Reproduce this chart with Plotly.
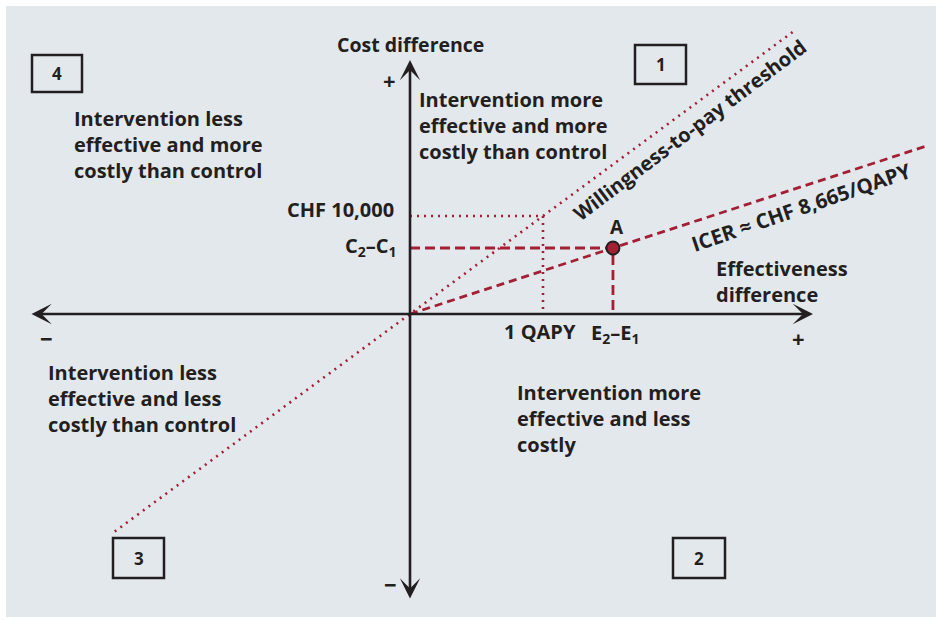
import plotly.graph_objects as go

# ---------------- data ----------------
WTP_THRESHOLD = 10000          # CHF per QAPY (willingness-to-pay)
ICER_LABEL = "ICER ≈ CHF 8,665/QAPY"
point_A_effect = [1.526]       # E2 - E1 (QAPY)
point_A_cost = [6735]          # C2 - C1 (CHF)
wtp_effect_span = [-2.22, 2.88]
icer_effect_span = [0.0, 3.87]
one_qapy = 1.0

quadrant_ids = ["1", "2", "3", "4"]
quadrant_texts = {
    "1": "Intervention more<br>effective and more<br>costly than control",
    "2": "Intervention more<br>effective and less<br>costly",
    "3": "Intervention less<br>effective and less<br>costly than control",
    "4": "Intervention less<br>effective and more<br>costly than control",
}

# ---------------- layout helpers ----------------
W, H = 938, 621
X0PX, Y0PX = 410, 314        # origin in pixels
PX_PER_QAPY = 133
PX_PER_10K = 98

def px_x(p):
    return p / W

def px_y(p):
    return 1 - p / H

x_range = [-X0PX / PX_PER_QAPY, (W - X0PX) / PX_PER_QAPY]
y_range = [-(H - Y0PX) / PX_PER_10K * 10000, Y0PX / PX_PER_10K * 10000]

RED = "#a31f34"
INK = "#231f20"
BG = "#e3e8ed"
FONT = "Open Sans"

fig = go.Figure()

# willingness-to-pay threshold line (dotted)
fig.add_trace(go.Scatter(
    x=wtp_effect_span, y=[e * WTP_THRESHOLD for e in wtp_effect_span],
    mode="lines", line=dict(color=RED, width=2.6, dash="2px,5px"),
    hoverinfo="skip", showlegend=False))

# ICER line through origin and A (dashed)
slope = point_A_cost[0] / point_A_effect[0]
fig.add_trace(go.Scatter(
    x=icer_effect_span, y=[e * slope for e in icer_effect_span],
    mode="lines", line=dict(color=RED, width=2.8, dash="8px,5px"),
    hoverinfo="skip", showlegend=False))

# dotted guides to 1 QAPY / CHF 10,000
fig.add_trace(go.Scatter(
    x=[0, one_qapy, one_qapy], y=[WTP_THRESHOLD, WTP_THRESHOLD, 0],
    mode="lines", line=dict(color=RED, width=2.6, dash="2px,5px"),
    hoverinfo="skip", showlegend=False))

# dashed guides to A
fig.add_trace(go.Scatter(
    x=[0, point_A_effect[0], point_A_effect[0]],
    y=[point_A_cost[0], point_A_cost[0], 0],
    mode="lines", line=dict(color=RED, width=2.8, dash="10px,5px"),
    hoverinfo="skip", showlegend=False))

# point A
fig.add_trace(go.Scatter(
    x=point_A_effect, y=point_A_cost, mode="markers",
    marker=dict(size=13, color=RED, line=dict(color=INK, width=2)),
    hoverinfo="skip", showlegend=False))

# axes arrows (double headed)
x_axis_ends = [-2.857, 3.03]
y_axis_ends = [-29184, 25918]
fig.add_annotation(x=x_axis_ends[1], y=0, ax=x_axis_ends[0], ay=0,
                   xref="x", yref="y", axref="x", ayref="y", text="",
                   showarrow=True, arrowhead=3, startarrowhead=3,
                   arrowside="end+start", arrowsize=1.3, startarrowsize=1.3,
                   arrowwidth=2.6, arrowcolor=INK)
fig.add_annotation(x=0, y=y_axis_ends[1], ax=0, ay=y_axis_ends[0],
                   xref="x", yref="y", axref="x", ayref="y", text="",
                   showarrow=True, arrowhead=3, startarrowhead=3,
                   arrowside="end+start", arrowsize=1.3, startarrowsize=1.3,
                   arrowwidth=2.6, arrowcolor=INK)

shapes = [dict(type="rect", xref="paper", yref="paper",
               x0=px_x(6), x1=px_x(936), y0=px_y(617), y1=px_y(6),
               fillcolor=BG, line=dict(width=0), layer="below")]

# numbered quadrant boxes
box_px = {"4": (32, 55, 82, 92), "1": (635, 45, 686, 84),
          "3": (113, 538, 164, 578), "2": (673, 538, 725, 578)}
for q in quadrant_ids:
    x0, y0, x1, y1 = box_px[q]
    shapes.append(dict(type="rect", xref="paper", yref="paper",
                       x0=px_x(x0), x1=px_x(x1), y0=px_y(y1), y1=px_y(y0),
                       line=dict(color=INK, width=2.5), fillcolor="rgba(0,0,0,0)"))
    fig.add_annotation(x=px_x((x0 + x1) / 2), y=px_y((y0 + y1) / 2),
                       xref="paper", yref="paper", text=f"<b>{q}</b>",
                       xanchor="center", yanchor="middle",
                       showarrow=False, font=dict(size=17, color=INK, family=FONT))

def label(text, xp, yp, size=20, xanchor="left", yanchor="middle", align="left", angle=0):
    fig.add_annotation(x=px_x(xp), y=px_y(yp), xref="paper", yref="paper",
                       text=f"<b>{text}</b>", showarrow=False, xanchor=xanchor,
                       yanchor=yanchor, align=align, textangle=angle,
                       font=dict(size=size, color=INK, family=FONT))

# quadrant descriptions (left x, top y)
quad_pos = {"4": (72, 103), "1": (417, 84), "3": (46, 357), "2": (515, 377)}
for q in quadrant_ids:
    label(quadrant_texts[q], quad_pos[q][0], quad_pos[q][1], yanchor="top")

label("Cost difference", 410, 45, size=19.5, xanchor="center")
label("+", 389, 80, size=22, xanchor="center")
label("−", 390, 584, size=22, xanchor="center")
label("−", 46, 338, size=22, xanchor="center")
label("+", 798, 338, size=22, xanchor="center")
label("CHF 10,000", 396, 210, size=20, xanchor="right")
label("C<sub>2</sub>–C<sub>1</sub>", 399, 246, size=20, xanchor="right")
label("1 QAPY", 540, 331, size=20, xanchor="center")
label("E<sub>2</sub>–E<sub>1</sub>", 615, 333, size=20, xanchor="center")
label("A", 617, 227, size=19, xanchor="center")
label("Effectiveness<br>difference", 714, 281, size=20)
label("Willingness-to-pay threshold", 689, 130, size=20, xanchor="center", angle=-37)
label(ICER_LABEL, 801, 207, size=20.5, xanchor="center", angle=-19)

fig.update_layout(
    width=W, height=H, autosize=False,
    margin=dict(l=0, r=0, t=0, b=0),
    paper_bgcolor="white", plot_bgcolor="rgba(0,0,0,0)",
    shapes=shapes,
    xaxis=dict(range=x_range, visible=False, fixedrange=True),
    yaxis=dict(range=y_range, visible=False, fixedrange=True),
    showlegend=False,
)

fig.write_html("out.html", config={"displayModeBar": False},
               post_script="document.body.style.margin='0px';")
